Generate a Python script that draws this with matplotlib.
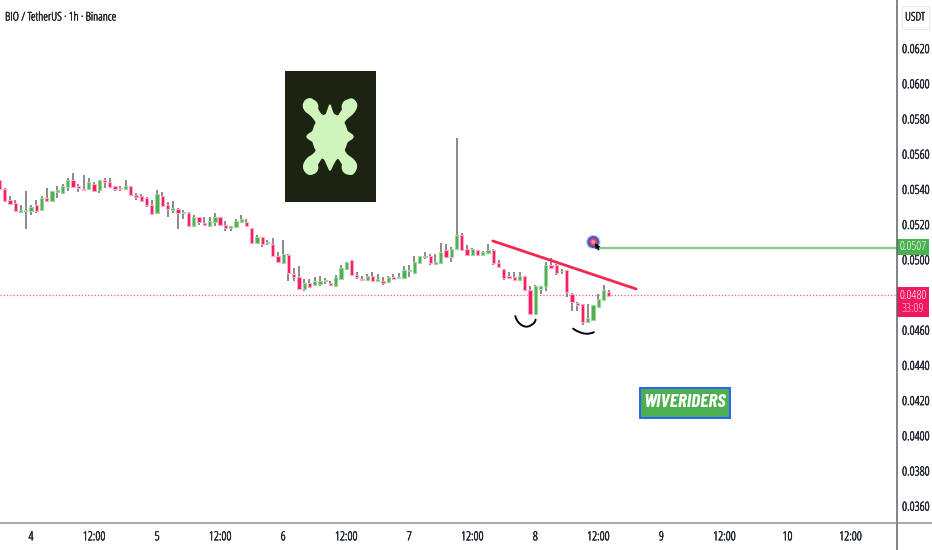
import numpy as np
import matplotlib
matplotlib.use('Agg')
import matplotlib.pyplot as plt
import matplotlib.patheffects as pe
from matplotlib.patches import Rectangle, Polygon, Circle, Ellipse
from matplotlib.transforms import ScaledTranslation

# prices are listed in units of 0.00001 USDT
hours = np.arange(-6, 111)
opens = [5456, 5405, 5343, 5324, 5275, 5278, 5278, 5312, 5288, 5352, 5339, 5390, 5381, 5418, 5456, 5422, 5407, 5403, 5434, 5400,
         5456, 5443, 5420, 5411, 5403, 5422, 5373, 5364, 5352, 5312, 5271, 5364, 5312, 5286, 5292, 5267, 5267, 5195, 5244, 5210,
         5193, 5218, 5244, 5201, 5182, 5191, 5219, 5219, 5185, 5100, 5130, 5100, 5092, 5022, 4982, 5032, 4922, 4903, 4838, 4871,
         4857, 4867, 4880, 4872, 4855, 4891, 4950, 5001, 4918, 4893, 4888, 4908, 4880, 4880, 4878, 4903, 4901, 4901, 4941, 4929,
         4986, 5020, 5024, 4980, 4986, 5056, 5018, 5066, 5143, 5062, 5028, 5057, 5028, 5041, 5060, 4985, 4952, 4909, 4903, 4886,
         4909, 4833, 4693, 4837, 4856, 4975, 4971, 4937, 4947, 4808, 4757, 4752, 4647, 4659, 4735, 4776, 4822]
highs = [5456, 5409, 5365, 5343, 5314, 5396, 5314, 5343, 5365, 5409, 5396, 5422, 5434, 5468, 5494, 5434, 5485, 5466, 5445, 5456,
         5466, 5466, 5422, 5422, 5456, 5422, 5381, 5375, 5362, 5343, 5400, 5386, 5333, 5335, 5295, 5286, 5273, 5256, 5244, 5248,
         5248, 5267, 5248, 5223, 5197, 5232, 5257, 5234, 5185, 5141, 5130, 5115, 5126, 5047, 5115, 5035, 4954, 4967, 4895, 4893,
         4903, 4910, 4897, 4884, 4918, 4975, 4992, 5001, 4933, 4910, 4920, 4931, 4922, 4903, 4910, 4922, 4929, 4965, 4971, 5024,
         5024, 5049, 5035, 5035, 5096, 5094, 5073, 5695, 5153, 5085, 5068, 5060, 5051, 5094, 5066, 5000, 4952, 4933, 4933, 4933,
         4909, 4852, 4861, 4852, 4990, 5011, 4981, 4952, 4947, 4812, 4763, 4754, 4754, 4748, 4810, 4860, 4833]
lows = [5403, 5335, 5318, 5275, 5271, 5176, 5257, 5267, 5282, 5337, 5339, 5356, 5375, 5396, 5409, 5388, 5400, 5400, 5392, 5384,
        5413, 5409, 5396, 5396, 5400, 5371, 5343, 5335, 5305, 5257, 5267, 5305, 5248, 5267, 5176, 5235, 5191, 5191, 5201, 5197,
        5191, 5197, 5197, 5168, 5165, 5187, 5213, 5187, 5094, 5096, 5073, 5088, 5020, 4986, 4980, 4884, 4884, 4836, 4827, 4840,
        4854, 4854, 4863, 4854, 4854, 4888, 4948, 4912, 4895, 4884, 4884, 4878, 4876, 4861, 4872, 4888, 4891, 4899, 4905, 4927,
        4986, 5005, 4975, 4975, 4982, 5013, 4990, 5062, 5056, 5026, 5022, 5022, 5022, 5038, 4975, 4956, 4890, 4894, 4886, 4882,
        4825, 4695, 4691, 4810, 4825, 4958, 4914, 4920, 4791, 4710, 4712, 4632, 4644, 4655, 4731, 4772, 4795]
closes = [5403, 5339, 5322, 5278, 5286, 5286, 5303, 5278, 5354, 5339, 5396, 5398, 5422, 5456, 5418, 5409, 5401, 5445, 5394, 5456,
          5443, 5418, 5405, 5403, 5422, 5371, 5362, 5339, 5312, 5263, 5377, 5311, 5290, 5295, 5269, 5276, 5195, 5246, 5220, 5201,
          5223, 5246, 5201, 5184, 5195, 5223, 5234, 5194, 5100, 5132, 5090, 5104, 5022, 4988, 5035, 4929, 4907, 4838, 4872, 4848,
          4884, 4882, 4886, 4857, 4903, 4954, 4990, 4916, 4903, 4889, 4910, 4880, 4893, 4869, 4905, 4891, 4905, 4944, 4946, 4990,
          5024, 5024, 4982, 4988, 5047, 5018, 5062, 5143, 5058, 5030, 5062, 5032, 5047, 5060, 4985, 4960, 4899, 4897, 4890, 4909,
          4829, 4697, 4852, 4852, 4975, 4958, 4928, 4941, 4820, 4761, 4748, 4649, 4672, 4744, 4778, 4833, 4797]

price_ticks = [0.0360, 0.0380, 0.0400, 0.0420, 0.0440, 0.0460, 0.0480, 0.0500, 0.0520, 0.0540, 0.0560, 0.0580, 0.0600, 0.0620]
time_ticks = [0, 12, 24, 36, 48, 60, 72, 84, 96, 108, 120, 132, 144, 156]
time_labels = ['4', '12:00', '5', '12:00', '6', '12:00', '7', '12:00', '8', '12:00', '9', '12:00', '10', '12:00']
last_price = 0.0480
target_price = 0.0507
trend_hours = [87.9, 115.2]
trend_prices = [0.05110, 0.04837]

GREEN = '#4CAF50'
RED = '#F7195F'
TEXT = '#20242e'
# the condensed face is a light one, a hairline stroke darkens it
DARKEN = [pe.withStroke(linewidth=0.35, foreground=TEXT)]


def smooth(points, rounds=3, closed=True):
    # chaikin corner cutting
    pts = np.array(points, dtype=float)
    for _ in range(rounds):
        nxt = np.roll(pts, -1, axis=0) if closed else pts[1:]
        cur = pts if closed else pts[:-1]
        q = 0.75 * cur + 0.25 * nxt
        r = 0.25 * cur + 0.75 * nxt
        pts = np.empty((len(q) * 2, 2))
        pts[0::2] = q
        pts[1::2] = r
    return pts


plt.rcParams['font.family'] = ['Open Sans', 'DejaVu Sans']
plt.rcParams['font.stretch'] = 'condensed'
fig = plt.figure(figsize=(9.32, 5.5), dpi=100)
ax = fig.add_axes([0, 28 / 550, 896.5 / 932, 522 / 550])

o = np.array(opens) / 1e5
h = np.array(highs) / 1e5
l = np.array(lows) / 1e5
c = np.array(closes) / 1e5
up = c >= o

ax.vlines(hours, l, h, color='#6b6b6b', lw=1.1, zorder=2)
ax.bar(hours[up], (c - o)[up], bottom=o[up], width=0.62, color=GREEN, edgecolor='#9fd4a2', lw=0.8, zorder=3)
ax.bar(hours[~up], (o - c)[~up], bottom=c[~up], width=0.62, color=RED, edgecolor='#fba9c2', lw=0.8, zorder=3)

ax.axhline(last_price, color='#EE5C84', lw=0.9, ls=(0, (1, 1.6)), zorder=1)
ax.plot([108.2, 170], [target_price, target_price], color='#8FCB8F', lw=1.7, zorder=2)
ax.plot(trend_hours, trend_prices, color='#F5274F', lw=2, zorder=4, solid_capstyle='round')

ax.set_xlim(-5.905, 164.76)
ax.set_ylim(0.03513, 0.06479)
ax.set_xticks(time_ticks)
ax.set_xticklabels(time_labels)
ax.yaxis.tick_right()
ax.set_yticks(price_ticks)
# the 0.0480 label sits under the last price tag
ax.set_yticklabels(['' if p == last_price else '%.4f' % p for p in price_ticks])
ax.tick_params(axis='both', length=0, labelsize=9, labelcolor=TEXT)
ax.tick_params(axis='x', pad=6)
ax.tick_params(axis='y', pad=4)
for lab in ax.get_yticklabels():
    lab.set_transform(lab.get_transform() + ScaledTranslation(0, 1 / 100, fig.dpi_scale_trans))
    lab.set_path_effects(DARKEN)
for lab in ax.get_xticklabels():
    lab.set_path_effects(DARKEN)
for side in ax.spines:
    ax.spines[side].set_visible(False)

# overlay in pixel coordinates for the hand drawn bits
ov = fig.add_axes([0, 0, 1, 1], zorder=5)
ov.set_xlim(0, 932)
ov.set_ylim(550, 0)
ov.axis('off')

ov.plot([896.5, 896.5], [0, 550], color='#5f626c', lw=1.1)
ov.plot([0, 932], [522.5, 522.5], color='#8b8e98', lw=1.1)

ov.text(5, 17, 'BIO / TetherUS · 1h · Binance', fontsize=8.6, color=TEXT, va='center', path_effects=DARKEN)

# logo
ov.add_patch(Rectangle((285, 71), 91, 131, color='#1B2410', lw=0))
logo_green = '#CFF5BC'
blob = [(165, 125), (175, 160), (185, 168), (195, 165), (207, 150), (215, 120), (232, 112), (250, 132), (240, 158),
        (215, 178), (205, 190), (212, 210), (244, 230), (212, 250), (207, 265), (215, 283), (238, 297), (250, 320),
        (232, 350), (210, 335), (200, 305), (188, 293), (175, 315), (165, 338), (155, 315), (145, 293), (130, 300),
        (122, 332), (103, 350), (80, 325), (92, 295), (118, 280), (127, 262), (120, 250), (86, 230), (118, 210),
        (127, 190), (110, 170), (80, 145), (88, 118), (112, 112), (125, 135), (135, 160), (150, 168), (155, 155)]
blob_px = [(275 + x / 3, 60 + y / 3) for x, y in blob]
ov.add_patch(Polygon(smooth(blob_px), closed=True, color=logo_green, lw=0))
ov.add_patch(Ellipse((330, 136.5), 36, 46, color=logo_green, lw=0))
for ex, ey in [(108, 140), (222, 140), (108, 322), (222, 322)]:
    ex, ey = 275 + ex / 3, 60 + ey / 3
    ov.add_patch(Circle((ex, ey), 7.4, color=logo_green, lw=0))
    ov.plot([ex, 330], [ey, 136.5], color=logo_green, lw=6.5, solid_capstyle='round')

# target marker and cursor
ov.add_patch(Circle((593.3, 242), 7.2, color='#C9CEDC', lw=0))
ov.add_patch(Circle((593.3, 242), 6, color='#2B62D9', lw=0))
ov.add_patch(Circle((593.3, 242), 4, color='#F0365A', lw=0))
ov.add_patch(Circle((593.3, 242), 2.2, color='#F58B96', lw=0))
ov.add_patch(Polygon([(595, 243), (600.5, 247), (598.5, 247.6), (599.5, 250), (598, 250.6), (597, 248.4), (595.5, 249.5)],
                     closed=True, color='black', lw=0))

# hand drawn smiles
left_arc = [(514, 311.5), (517, 322), (526, 328), (535, 323), (536, 317)]
right_arc = [(569.3, 326), (578, 332), (588, 334.5), (598.3, 330.5)]
for arc in (left_arc, right_arc):
    a = smooth(arc, closed=False)
    ov.plot(a[:, 0], a[:, 1], color='black', lw=1.4, solid_capstyle='round')

# watermark box
ov.add_patch(Rectangle((639.5, 387.5), 90, 30, facecolor=GREEN, edgecolor='#2962FF', lw=1.4))
ov.text(685, 402.5, 'WIVERIDERS', color='white', fontsize=14, fontweight='bold', style='italic', ha='center', va='center',
        family=['Barlow Condensed', 'Open Sans', 'DejaVu Sans'])

# price axis tags
ov.add_patch(Rectangle((901.5, 5.5), 27, 23, facecolor='white', edgecolor='#E8EAF0', lw=0.8))
ov.text(915, 17, 'USDT', fontsize=8.5, color=TEXT, ha='center', va='center', path_effects=DARKEN)
ov.add_patch(Rectangle((897, 239), 32, 16, color=GREEN, lw=0))
ov.text(913, 247, '%.4f' % target_price, fontsize=9, color='white', ha='center', va='center')
ov.add_patch(Rectangle((897, 287), 32, 30, color='#F0185F', lw=0))
ov.text(913, 295.5, '%.4f' % last_price, fontsize=9, color='white', ha='center', va='center')
ov.text(913, 309, '33:09', fontsize=9, color='#FFD3E0', ha='center', va='center')

fig.savefig('out.png', dpi=100)
